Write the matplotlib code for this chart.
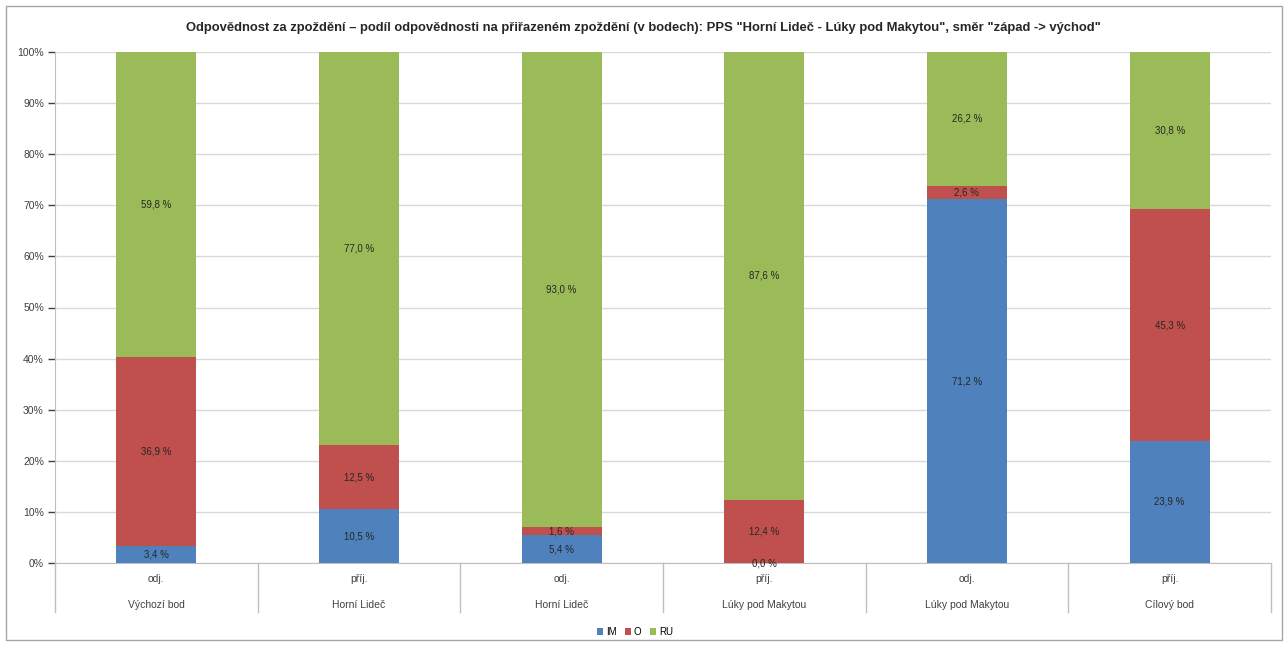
import numpy as np
import matplotlib.pyplot as plt
from matplotlib.patches import Rectangle

# responsibility shares per point (percent of assigned delay)
directions = ['odj.', 'příj.', 'odj.', 'příj.', 'odj.', 'příj.']
stations = ['Výchozí bod', 'Horní Lideč', 'Horní Lideč', 'Lúky pod Makytou',
            'Lúky pod Makytou', 'Cílový bod']
im_share = [3.4, 10.5, 5.4, 0.0, 71.2, 23.9]
o_share = [36.9, 12.5, 1.6, 12.4, 2.6, 45.3]
ru_share = [59.8, 77.0, 93.0, 87.6, 26.2, 30.8]
series_names = ['IM', 'O', 'RU']
colors = ['#4F81BD', '#C0504D', '#9BBB59']

W, H = 1287, 646
plt.rcParams['font.family'] = ['Liberation Sans', 'DejaVu Sans']

fig = plt.figure(figsize=(W / 100, H / 100), dpi=100)
fig.patches.append(Rectangle((6 / W, 6 / H), 1276 / W, 634 / H, transform=fig.transFigure,
                             fill=False, edgecolor='#A6A6A6', linewidth=1))

x0, x1, y0, y1 = 55, 1271, 563, 52
ax = fig.add_axes([x0 / W, (H - y0) / H, (x1 - x0) / W, (y0 - y1) / H])

x = np.arange(len(stations))
width = 0.395
bottom = np.zeros(len(stations))
for name, vals, col in zip(series_names, [im_share, o_share, ru_share], colors):
    vals = np.array(vals)
    ax.bar(x, vals, width, bottom=bottom, color=col, label=name, zorder=3)
    for xi, b, v in zip(x, bottom, vals):
        ax.text(xi, b + v / 2, '{:.1f} %'.format(v).replace('.', ','), ha='center', va='center',
                fontsize=7, color='#262626', zorder=4)
    bottom += vals

ax.set_xlim(-0.5, len(stations) - 0.5)
ax.set_ylim(0, 100)
ax.set_yticks(np.arange(0, 101, 10))
ax.set_yticklabels(['{}%'.format(v) for v in range(0, 101, 10)])
ax.tick_params(axis='y', labelsize=7.5, colors='#404040', length=5, width=1, pad=3)
for t in ax.get_yticklines():
    t.set_color('#BFBFBF')
ax.set_xticks([])
ax.grid(axis='y', color='#D9D9D9', linewidth=1, zorder=0)
for s in ['top', 'right']:
    ax.spines[s].set_visible(False)
ax.spines['left'].set_color('#BFBFBF')
ax.spines['bottom'].set_color('#BFBFBF')

# two-level category labels with separators
trans = ax.get_xaxis_transform()
px = 1 / (y0 - y1)
for xi, d, s in zip(x, directions, stations):
    ax.text(xi, -16 * px, d, transform=trans, ha='center', va='center', fontsize=7.5, color='#404040')
    ax.text(xi, -42 * px, s, transform=trans, ha='center', va='center', fontsize=7.5, color='#404040')
for b in np.arange(-0.5, len(stations), 1.0):
    ax.plot([b, b], [0, -49 * px], transform=trans, color='#BFBFBF', linewidth=1, clip_on=False)

fig.text(0.5, 1 - 28 / H,
         'Odpovědnost za zpoždění – podíl odpovědnosti na přiřazeném zpoždění (v bodech): '
         'PPS "Horní Lideč - Lúky pod Makytou", směr "západ -> východ"',
         ha='center', va='center', fontsize=9.4, fontweight='bold', color='#262626')

fig.legend(loc='center', bbox_to_anchor=(635 / W, 1 - 632 / H), ncol=3, frameon=False,
           fontsize=7, handlelength=0.6, handleheight=0.6, handletextpad=0.3, columnspacing=0.9)

fig.savefig('out.png', dpi=100)
